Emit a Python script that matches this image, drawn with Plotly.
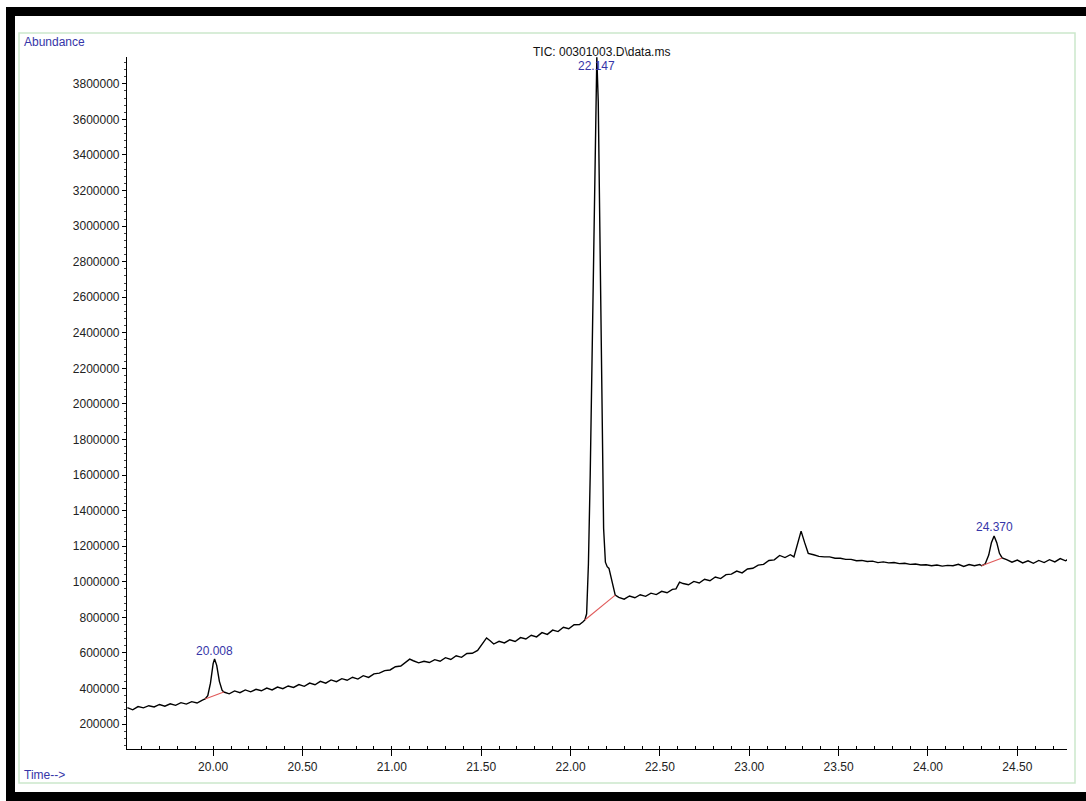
import plotly.graph_objects as go

# ---- data (time in min, abundance in thousands of counts) ----
time_min = [
    19.52, 19.55, 19.58, 19.61, 19.64, 19.67, 19.70, 19.73, 19.76, 19.79, 19.82, 19.85, 19.88, 19.91, 19.94, 19.955,
    19.97, 19.985, 20.00, 20.008, 20.02, 20.035, 20.05, 20.06,
    20.09, 20.12, 20.15, 20.18, 20.21, 20.24, 20.27, 20.30, 20.33, 20.36, 20.39, 20.42, 20.45, 20.48, 20.51, 20.54,
    20.57, 20.60, 20.63, 20.66, 20.69, 20.72, 20.75, 20.78, 20.81, 20.84, 20.87, 20.90, 20.93, 20.96, 20.99, 21.02,
    21.05, 21.08, 21.10, 21.12, 21.15, 21.18, 21.21, 21.24, 21.27, 21.30, 21.33, 21.36, 21.39, 21.42, 21.45, 21.48,
    21.51, 21.53, 21.55, 21.57, 21.60, 21.63, 21.66, 21.69, 21.72, 21.75, 21.78, 21.81, 21.84, 21.87, 21.90, 21.93,
    21.96, 21.99, 22.02, 22.05, 22.07,
    22.08, 22.09, 22.10, 22.11, 22.12, 22.13, 22.14, 22.147, 22.155, 22.165, 22.175, 22.185, 22.195, 22.205, 22.215,
    22.225, 22.235, 22.25,
    22.27, 22.30, 22.33, 22.36, 22.39, 22.42, 22.45, 22.48, 22.51, 22.54, 22.57, 22.59, 22.61, 22.63, 22.66, 22.69,
    22.72, 22.75, 22.78, 22.81, 22.84, 22.87, 22.90, 22.93, 22.96, 22.99, 23.02, 23.05, 23.08, 23.11, 23.14, 23.17,
    23.20, 23.23, 23.25, 23.27, 23.29, 23.31, 23.33, 23.36, 23.39, 23.42, 23.45, 23.48, 23.51, 23.54, 23.57, 23.60,
    23.63, 23.66, 23.69, 23.72, 23.75, 23.78, 23.81, 23.84, 23.87, 23.90, 23.93, 23.96, 23.99, 24.02, 24.05, 24.08,
    24.11, 24.14, 24.17, 24.20, 24.23, 24.26, 24.29, 24.30,
    24.32, 24.34, 24.355, 24.37, 24.385, 24.40, 24.415,
    24.44, 24.47, 24.50, 24.53, 24.56, 24.59, 24.62, 24.65, 24.68, 24.71, 24.74, 24.77, 24.78,
]
abundance_k = [
    292, 280, 298, 291, 303, 296, 310, 300, 314, 305, 320, 312, 326, 318, 335, 341,
    360, 430, 540, 566, 530, 440, 390, 380,
    370, 386, 376, 392, 381, 395, 387, 402, 392, 408, 399, 414, 406, 422, 412, 430,
    421, 440, 430, 448, 438, 455, 446, 463, 453, 472, 462, 482, 486, 500, 504, 522,
    526, 548, 565, 556, 544, 553, 546, 562, 553, 573, 563, 584, 575, 597, 598, 614,
    660, 684, 668, 650, 665, 656, 674, 664, 686, 678, 699, 690, 714, 704, 728, 720,
    744, 736, 758, 760, 775,
    785, 820, 1100, 1600, 2300, 3000, 3650, 3950, 3700, 2800, 1900, 1300, 1110, 1085, 1075,
    1030, 975, 925,
    912, 902, 920, 910, 927, 918, 936, 928, 946, 938, 957, 960, 998, 990, 983, 1002,
    993, 1014, 1006, 1027, 1018, 1040, 1043, 1060, 1050, 1072, 1076, 1094, 1098, 1120, 1123, 1148,
    1136, 1152, 1140, 1210, 1285, 1220, 1160, 1152, 1143, 1140, 1140, 1132, 1132, 1126, 1126, 1118,
    1120, 1114, 1116, 1108, 1112, 1106, 1108, 1102, 1104, 1098, 1100, 1094, 1096, 1090, 1094, 1088,
    1092, 1090, 1098, 1086, 1097, 1090, 1097, 1090,
    1100, 1150, 1220, 1258, 1220, 1160, 1134,
    1124, 1110, 1122, 1106, 1118, 1104, 1120, 1108, 1124, 1112, 1130, 1118, 1124,
]

# integration baselines (start/end of each integrated peak)
baseline_t = [[19.955, 20.06], [22.08, 22.25], [24.30, 24.415]]
baseline_k = [[341, 380], [785, 925], [1090, 1134]]

# peak labels
peak_labels = ["20.008", "22.147", "24.370"]
peak_t = [20.008, 22.147, 24.370]
label_k = [611, 3901, 1308]

y_ticks = [200000, 400000, 600000, 800000, 1000000, 1200000, 1400000, 1600000, 1800000,
           2000000, 2200000, 2400000, 2600000, 2800000, 3000000, 3200000, 3400000, 3600000, 3800000]
x_ticks = [20.0, 20.5, 21.0, 21.5, 22.0, 22.5, 23.0, 23.5, 24.0, 24.5]
x_ticklabels = ["20.00", "20.50", "21.00", "21.50", "22.00", "22.50", "23.00", "23.50", "24.00", "24.50"]

title_text = "TIC: 00301003.D\\data.ms"

# ---- layout geometry (pixels) ----
W, H = 1086, 801
L, R, T, B = 127, 1067, 57, 749
FONT = "Liberation Sans, Arial, sans-serif"
BLUE = "#3535a8"


def xp(px):
    return (px - L) / (R - L)


def yp(py):
    return (B - py) / (B - T)


fig = go.Figure()
fig.add_trace(go.Scatter(
    x=time_min, y=[v * 1000 for v in abundance_k], mode="lines",
    line=dict(color="black", width=1.4), showlegend=False, hoverinfo="skip"))
for bt, bk in zip(baseline_t, baseline_k):
    fig.add_trace(go.Scatter(
        x=bt, y=[v * 1000 for v in bk], mode="lines",
        line=dict(color="#e05a5a", width=1.1), showlegend=False, hoverinfo="skip"))

annotations = []
for lab, t, k in zip(peak_labels, peak_t, label_k):
    annotations.append(dict(x=t, y=k * 1000, xref="x", yref="y", text=lab, showarrow=False,
                            xanchor="center", yanchor="middle",
                            font=dict(family=FONT, size=12, color=BLUE)))
annotations += [
    dict(x=xp(22), y=yp(42), xref="paper", yref="paper", text="Abundance", showarrow=False,
         xanchor="left", yanchor="middle", font=dict(family=FONT, size=12, color=BLUE)),
    dict(x=xp(22), y=yp(775), xref="paper", yref="paper", text="Time-->", showarrow=False,
         xanchor="left", yanchor="middle", font=dict(family=FONT, size=12, color=BLUE)),
    dict(x=xp(601), y=yp(52), xref="paper", yref="paper", text=title_text, showarrow=False,
         xanchor="center", yanchor="middle", font=dict(family=FONT, size=12, color="#111111")),
]

shapes = [
    # light green inner frame
    dict(type="rect", xref="paper", yref="paper", x0=xp(19), x1=xp(1075), y0=yp(33), y1=yp(783),
         line=dict(color="#cbe8cb", width=1.5), fillcolor="rgba(0,0,0,0)", layer="below"),
    # black outer frame (left, top, bottom)
    dict(type="rect", xref="paper", yref="paper", x0=xp(6), x1=xp(15), y0=yp(801), y1=yp(7),
         line=dict(width=0), fillcolor="black"),
    dict(type="rect", xref="paper", yref="paper", x0=xp(6), x1=xp(1086), y0=yp(16), y1=yp(7),
         line=dict(width=0), fillcolor="black"),
    dict(type="rect", xref="paper", yref="paper", x0=xp(6), x1=xp(1086), y0=yp(801), y1=yp(792),
         line=dict(width=0), fillcolor="black"),
]

fig.update_layout(
    width=W, height=H,
    margin=dict(l=L, r=W - R, t=T, b=H - B, pad=0),
    paper_bgcolor="white", plot_bgcolor="white",
    font=dict(family=FONT, size=12, color="#222222"),
    annotations=annotations, shapes=shapes,
    xaxis=dict(range=[19.518, 24.778], tickvals=x_ticks, ticktext=x_ticklabels,
               showgrid=False, zeroline=False, showline=True, linecolor="black", linewidth=1.2,
               ticks="outside", ticklen=6, tickcolor="black", tickwidth=1.2,
               tickfont=dict(family=FONT, size=12, color="#222222"),
               minor=dict(dtick=0.1, tick0=20.0, ticks="inside", ticklen=3, tickcolor="black",
                          showgrid=False)),
    yaxis=dict(range=[59600, 3951000], tickvals=y_ticks, tickformat="d",
               showgrid=False, zeroline=False, showline=True, linecolor="black", linewidth=1.2,
               ticks="outside", ticklen=4, tickcolor="black", tickwidth=1,
               tickfont=dict(family=FONT, size=12, color="#222222"),
               minor=dict(dtick=40000, tick0=0, ticks="outside", ticklen=2, tickcolor="#444444",
                          showgrid=False)),
)

fig.write_html("out.html", config={"displayModeBar": False})
